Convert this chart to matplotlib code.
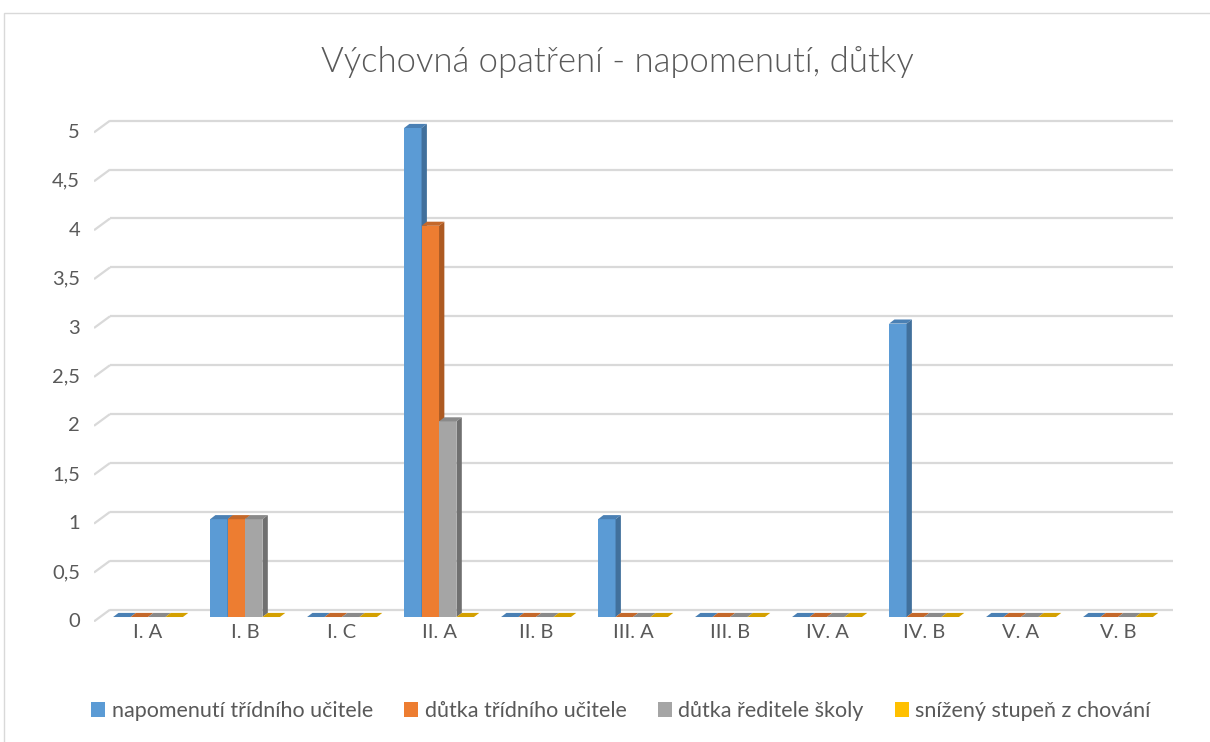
import matplotlib
matplotlib.use("Agg")
import matplotlib.pyplot as plt
from matplotlib.patches import Polygon, Rectangle, Patch
import numpy as np

plt.rcParams['font.family'] = ['Lato', 'DejaVu Sans']

title = "Výchovná opatření - napomenutí, důtky"
categories = ["I. A", "I. B", "I. C", "II. A", "II. B", "III. A", "III. B", "IV. A", "IV. B", "V. A", "V. B"]
series_names = ["napomenutí třídního učitele", "důtka třídního učitele",
                "důtka ředitele školy", "snížený stupeň z chování"]
napomenuti_tu = [0, 1, 0, 5, 0, 1, 0, 0, 3, 0, 0]
dutka_tu = [0, 1, 0, 4, 0, 0, 0, 0, 0, 0, 0]
dutka_rs = [0, 1, 0, 2, 0, 0, 0, 0, 0, 0, 0]
snizeny = [0, 0, 0, 0, 0, 0, 0, 0, 0, 0, 0]
y_ticks = [0, 0.5, 1, 1.5, 2, 2.5, 3, 3.5, 4, 4.5, 5]
y_tick_labels = ["0", "0,5", "1", "1,5", "2", "2,5", "3", "3,5", "4", "4,5", "5"]

series = [napomenuti_tu, dutka_tu, dutka_rs, snizeny]
front_colors = ["#5B9BD5", "#ED7D31", "#A5A5A5", "#FFC000"]
top_colors = ["#4A80B4", "#C4682A", "#8A8A8A", "#D4A000"]
side_colors = ["#41709C", "#AD5A22", "#707070", "#B08600"]
text_color = "#595959"
grid_color = "#D9D9D9"

W, H = 1210, 742
fig = plt.figure(figsize=(W / 100, H / 100), dpi=100)
fig.patch.set_facecolor("white")

# chart border
fig.patches.append(Rectangle((4 / W, -0.1), 1.2, 1 - 13 / H + 0.1, transform=fig.transFigure,
                             fill=False, edgecolor=grid_color, lw=1.0))

ax = fig.add_axes([94 / W, (H - 622) / H, (1173 - 94) / W, (622 - 110) / H])
ax.set_xlim(-0.557, 10.567)
ax.set_ylim(-0.051, 5.184)
ax.axis("off")

front_off = 0.045   # front wall plane offset (value units)
back_off = 0.075    # back wall plane offset
wall_dx = 0.165     # wall depth (category units)
x_left = -0.557

# gridlines on back wall plus slanted side-wall segments
for v in y_ticks:
    ax.plot([x_left + wall_dx, 10.567], [v + back_off, v + back_off], color=grid_color, lw=1.6,
            solid_capstyle="butt", zorder=1)
    ax.plot([x_left, x_left + wall_dx], [v - front_off, v + back_off], color=grid_color, lw=1.6,
            solid_capstyle="butt", zorder=1)

for v, lab in zip(y_ticks, y_tick_labels):
    ax.text(-0.70, v - front_off, lab, ha="right", va="center", fontsize=14.5,
            color=text_color, clip_on=False)

for i, c in enumerate(categories):
    ax.text(i, -0.16, c, ha="center", va="center", fontsize=14.5, color=text_color, clip_on=False)

bw = 0.18
ddx = 0.055
ddy = 0.042
x = np.arange(len(categories))
for i in range(len(categories)):
    for j, s in enumerate(series):
        val = s[i]
        x0 = x[i] + (j - 2) * bw
        z = 3 + i * 10 + j * 2
        if val > 0:
            ax.bar(x0, val, width=bw, align="edge", color=front_colors[j], zorder=z, lw=0)
            ax.add_patch(Polygon([[x0, val], [x0 + bw, val], [x0 + bw + ddx, val + ddy], [x0 + ddx, val + ddy]],
                                 closed=True, facecolor=top_colors[j], lw=0, zorder=z))
            ax.add_patch(Polygon([[x0 + bw, 0], [x0 + bw + ddx, ddy], [x0 + bw + ddx, val + ddy], [x0 + bw, val]],
                                 closed=True, facecolor=side_colors[j], lw=0, zorder=z))
        else:
            ax.add_patch(Polygon([[x0, 0], [x0 + bw, 0], [x0 + bw + ddx, ddy], [x0 + ddx, ddy]],
                                 closed=True, facecolor=top_colors[j], lw=0, zorder=z))

fig.text(617 / W, 1 - 62 / H, title, ha="center", va="center", fontsize=25, color=text_color,
         fontweight=300)

handles = [Patch(facecolor=col, edgecolor="none") for col in front_colors]
fig.legend(handles, series_names, loc="center", bbox_to_anchor=(621 / W, 1 - 711 / H), ncol=4,
           frameon=False, fontsize=15.5, handlelength=0.65, handleheight=0.65, handletextpad=0.3,
           columnspacing=1.45, labelcolor=text_color)

fig.savefig("out.png", dpi=100)
